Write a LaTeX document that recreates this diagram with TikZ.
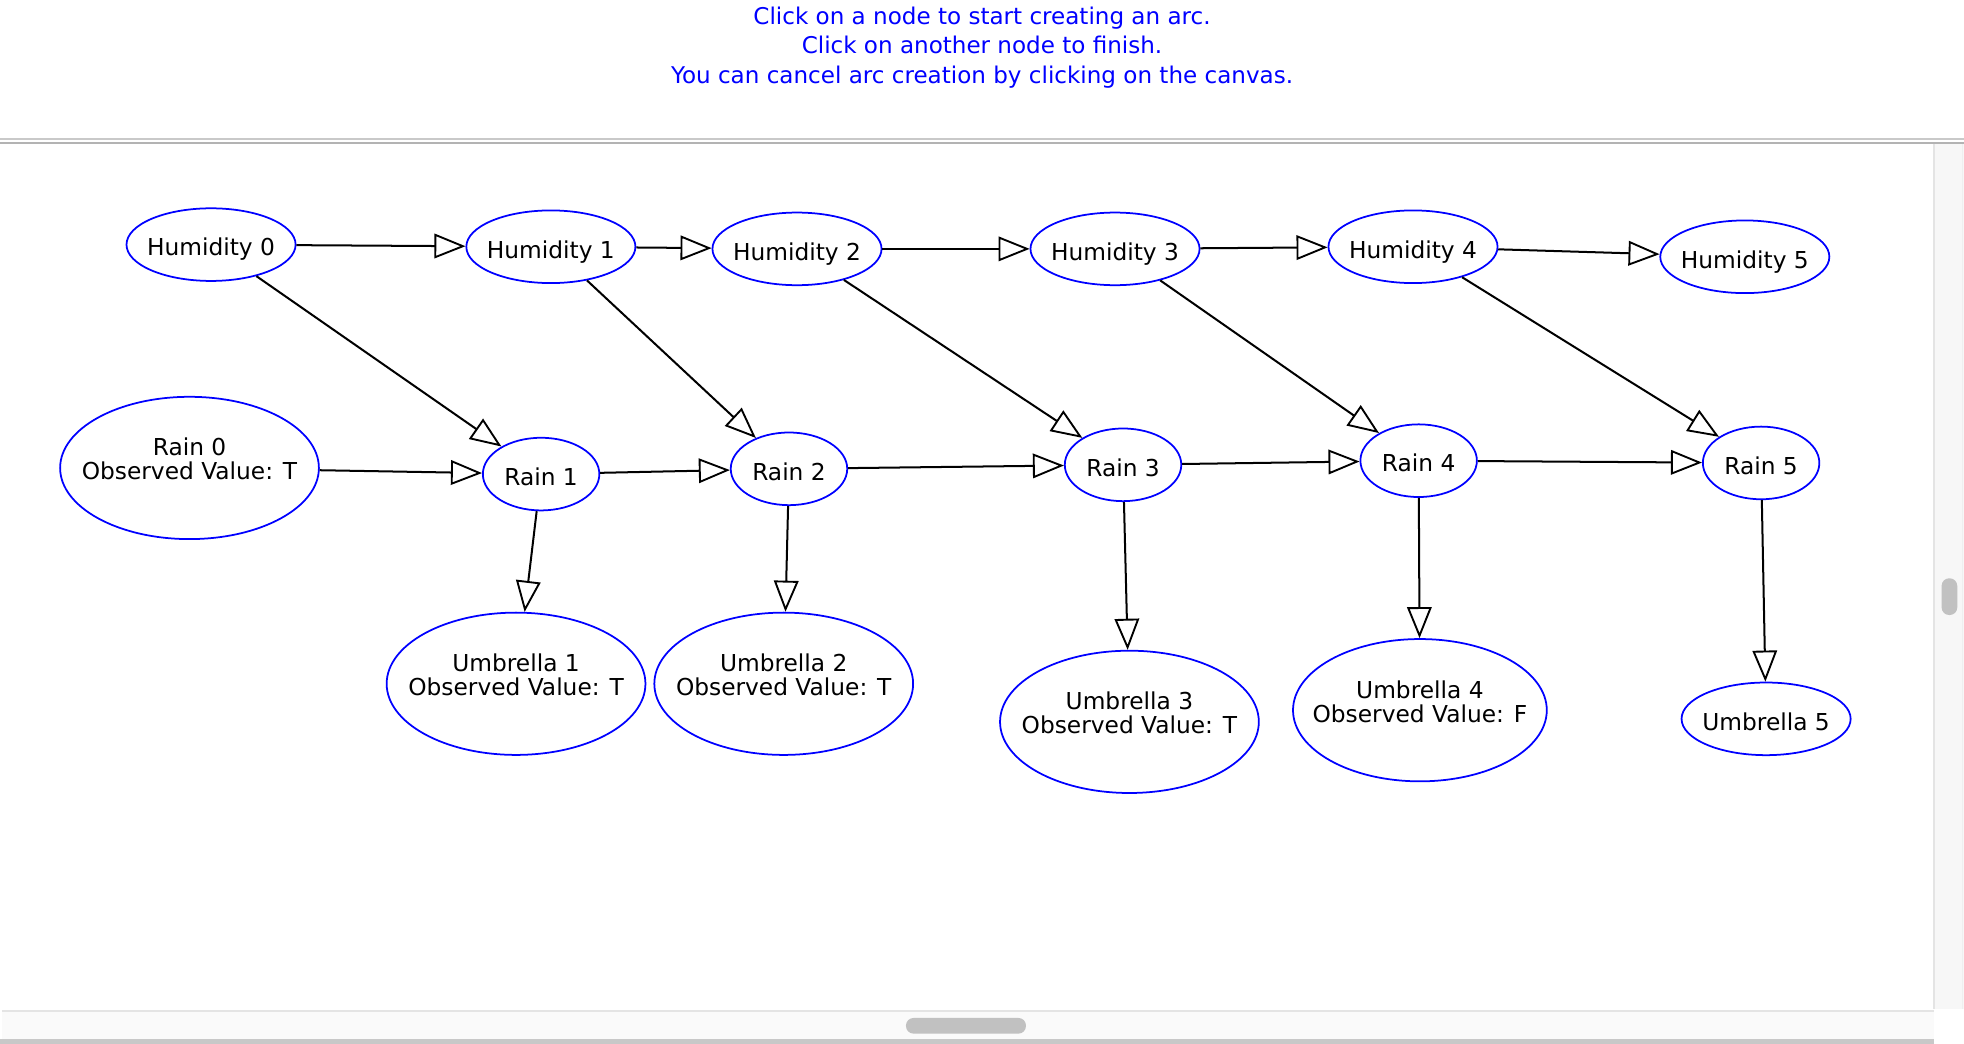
\documentclass[tikz,border=0pt]{standalone}
\usepackage{fontspec}
\setmainfont{DejaVu Sans}
\usetikzlibrary{arrows.meta,shapes.geometric}
\definecolor{jblue}{RGB}{0,0,255}
\definecolor{sepa}{RGB}{201,201,201}
\definecolor{sepb}{RGB}{179,179,179}
\definecolor{trk}{RGB}{247,247,247}
\definecolor{trkb}{RGB}{228,228,228}
\definecolor{thumb}{RGB}{193,193,193}
\definecolor{botl}{RGB}{200,200,200}
\newcommand\onel[1]{\makebox[0pt]{\raisebox{-4.5pt}[0pt][0pt]{#1}}}
\newcommand\twol[2]{\makebox[0pt]{\raisebox{4.85pt}[0pt][0pt]{#1}}\makebox[0pt]{\raisebox{-4.75pt}[0pt][0pt]{#2}}}
\begin{document}
\begin{tikzpicture}[x=0.5pt,y=-0.5pt,
  nd/.style={ellipse, draw=jblue, line width=0.7pt, inner sep=0pt, fill=white,
    font=\fontsize{9.3}{9.6}\selectfont},
  hum/.style={nd, minimum width=67.5pt, minimum height=29pt},
  rn/.style={nd, minimum width=46.5pt, minimum height=29pt},
  big/.style={nd, minimum width=103.3pt, minimum height=56.8pt},
  edg/.style={line width=0.8pt, -{Triangle[length=12.4pt, width=9.8pt, fill=white, line width=0.75pt]}},
  msg/.style={text=jblue, anchor=base, inner sep=0pt, font=\fontsize{9.2}{11}\selectfont}
]
\useasboundingbox (0,0) rectangle (1568,833.5);
\fill[white] (0,0) rectangle (1568,833.5);

% header messages
\node[msg] (m1) at (784,19.2) {Click on a node to start creating an arc.};
\node[msg] (m2) at (784,43.1) {Click on another node to finish.};
\node[msg] (m3) at (784,66.5) {You can cancel arc creation by clicking on the canvas.};

% separators
\draw[sepa, line width=0.8pt] (0,110.7) -- (1568,110.7);
\draw[sepb, line width=0.95pt] (0,114) -- (1568,114);

% right scrollbar
\fill[trk] (1544,115) rectangle (1568,805.8);
\draw[trkb, line width=0.75pt] (1544.2,115) -- (1544.2,805.8);
\draw[trkb!60, line width=0.6pt] (1566.6,115) -- (1566.6,805.8);
\fill[thumb, rounded corners=3pt] (1550.1,461.7) rectangle (1562.6,491);

% bottom scrollbar
\fill[trk!60] (1.6,806.4) rectangle (1544,830);
\fill[trkb] (1.6,806.4) rectangle (1544,808);
\fill[botl] (0,829.8) rectangle (1544,833.5);
\fill[thumb, rounded corners=3pt] (723.3,812.7) rectangle (819.1,825.2);

% nodes
\node[hum] (h0) at (168.5,195.3) {\onel{Humidity 0}};
\node[hum] (h1) at (439.8,197) {\onel{Humidity 1}};
\node[hum] (h2) at (636.3,198.7) {\onel{Humidity 2}};
\node[hum] (h3) at (890.2,198.7) {\onel{Humidity 3}};
\node[hum] (h4) at (1128.1,197) {\onel{Humidity 4}};
\node[hum] (h5) at (1393,205) {\onel{Humidity 5}};

\node[big] (r0) at (151.3,373.6) {\twol{Rain 0}{Observed Value: T}};
\node[rn] (r1) at (432,378.5) {\onel{Rain 1}};
\node[rn] (r2) at (629.9,374.3) {\onel{Rain 2}};
\node[rn] (r3) at (896.6,371.1) {\onel{Rain 3}};
\node[rn] (r4) at (1132.6,367.8) {\onel{Rain 4}};
\node[rn] (r5) at (1406,369.6) {\onel{Rain 5}};

\node[big] (u1) at (412,545.9) {\twol{Umbrella 1}{Observed Value: T}};
\node[big] (u2) at (625.7,545.9) {\twol{Umbrella 2}{Observed Value: T}};
\node[big] (u3) at (901.7,576.3) {\twol{Umbrella 3}{Observed Value: T}};
\node[big, minimum width=101.3pt] (u4) at (1133.6,567) {\twol{Umbrella 4}{Observed Value: F}};
\node[hum] (u5) at (1410,573.9) {\onel{Umbrella 5}};

% arcs
\draw[edg] (h0) -- (h1);
\draw[edg] (h1) -- (h2);
\draw[edg] (h2) -- (h3);
\draw[edg] (h3) -- (h4);
\draw[edg] (h4) -- (h5);
\draw[edg] (h0) -- (r1);
\draw[edg] (h1) -- (r2);
\draw[edg] (h2) -- (r3);
\draw[edg] (h3) -- (r4);
\draw[edg] (h4) -- (r5);
\draw[edg] (r0) -- (r1);
\draw[edg] (r1) -- (r2);
\draw[edg] (r2) -- (r3);
\draw[edg] (r3) -- (r4);
\draw[edg] (r4) -- (r5);
\draw[edg] (r1) -- (u1);
\draw[edg] (r2) -- (u2);
\draw[edg] (r3) -- (u3);
\draw[edg] (r4) -- (u4);
\draw[edg] (r5) -- (u5);
\end{tikzpicture}
\end{document}
